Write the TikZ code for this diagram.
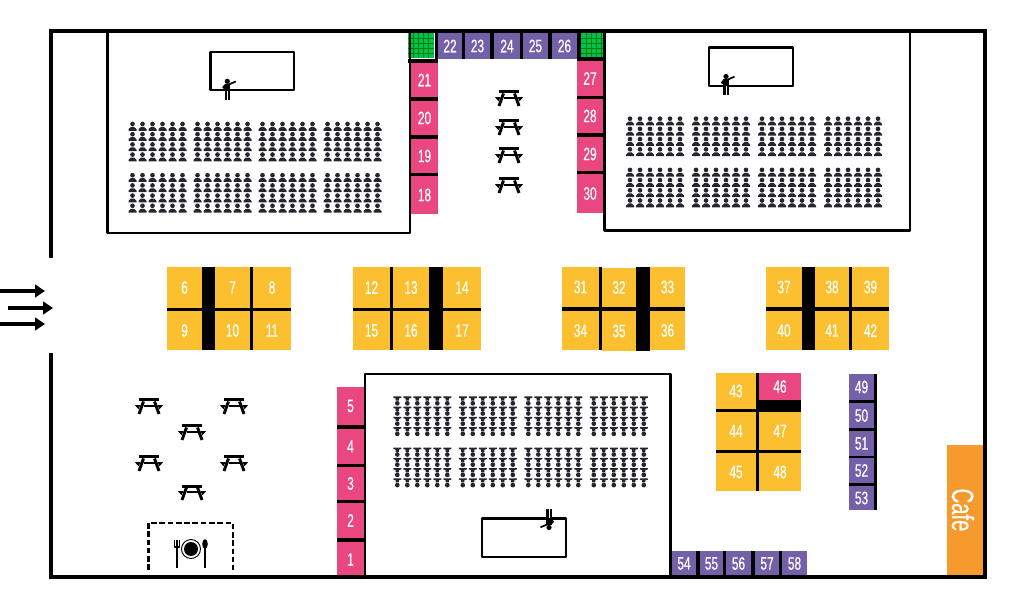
\documentclass[tikz,border=0pt]{standalone}
\usepackage{fontspec}
\usetikzlibrary{arrows.meta}
\newfontfamily\stallfont[FakeStretch=0.66,FakeBold=0.4]{Liberation Sans}
\definecolor{stallyellow}{HTML}{FBBF2F}
\definecolor{stallpink}{HTML}{EA4680}
\definecolor{stallpurple}{HTML}{7460A8}
\definecolor{cafeorange}{HTML}{F79A2E}
\definecolor{greenroom}{HTML}{00C050}
\definecolor{seatgray}{HTML}{26252E}
\tikzset{
 wall/.style={line width=3pt,line join=miter},
 room/.style={line width=2.1pt},
 stalltext/.style={text=white,font=\stallfont\fontsize{13.5}{13.5}\selectfont,inner sep=0pt},
 picnic/.pic={
  \fill (-10,-7.5) rectangle (10,-4.5);
  \draw[line width=2.2pt] (-5.5,-4.5)--(-10,8) (5.5,-4.5)--(10,8);
  \fill (-5.5,-1.2) rectangle (5.5,1.2);
  \fill (-14,-0.8)--(-8.4,-0.8)--(-10.6,3.2)--cycle (14,-0.8)--(8.4,-0.8)--(10.6,3.2)--cycle;
 },
 attendee/.pic={
  \fill (0,0) circle (2.35);
  \fill (-4,6.8)--(-4,5.2)--(-1.7,3)--(1.7,3)--(4,5.2)--(4,6.8)--cycle;
 },
 backseat/.pic={
  \fill (0,0) circle (2.35);
  \fill (-4,-6.8)--(4,-6.8)--(4,-5.5)--(1.6,-4.8)--(1.6,-2.6)--(-1.6,-2.6)--(-1.6,-4.8)--(-4,-5.5)--cycle;
 },
 speaker/.pic={
  \fill (0,0) circle (2.6);
  \fill (-2.6,3)--(2.6,3)--(2.6,19)--(-2.6,19)--cycle;
  \draw[white,line width=0.35pt] (0,10)--(0,19);
  \draw[line width=1.3pt] (1,3.4)--(8.5,0.2);
  \draw[line width=1.4pt] (-1.5,3.4)--(-4,6)--(-1,8);
 }
}
% seats of one room: first x, first y, gap of the blocks, kind of seat
\newcommand{\seatblocks}[4]{
 \foreach \block in {0,1,2,3}
 \foreach \tier in {0,1}
 \foreach \col in {0,...,5}
 \foreach \row in {0,1,2,3}
 \pic[seatgray] at ({#1+\block*#3+\col*10},{#2+\tier*51.2+\row*10.2}) {#4};
}
\begin{document}
\begin{tikzpicture}[x=0.75pt,y=-0.75pt,>=Triangle, line join=round]
 \useasboundingbox (0,0) rectangle (1024,605);
 % yellow, pink and purple stalls
 \foreach \n/\xa/\ya/\xb/\yb in {6/167/267/202/308,7/215/267/250/308,8/253/267/291/308,
 9/167/311/202/350,10/215/311/250/350,11/253/311/291/350,
 12/353/267/390/308,13/393/267/429/308,14/443/267/481/308,
 15/353/311/390/350,16/393/311/429/350,17/443/311/481/350,
 31/562/267/599/307,32/602/268/636/307,33/650/267/685/307,
 34/562/311/599/350,35/602/311/636/351,36/650/311/685/350,
 37/766/267/802/307,38/815/267/849/307,39/852/267/889/307,
 40/766/311/802/350,41/815/311/849/350,42/852/311/889/350,
 43/716/373/756/409,44/716/412/756/450,45/716/453/756/491,
 47/759/412/801/450,48/759/453/801/491}
 \path[fill=stallyellow] (\xa,\ya) rectangle node[stalltext] (s\n) {\n} (\xb,\yb);
 \foreach \n/\xa/\ya/\xb/\yb in {1/337/542/364/577,2/337/503/364/538,3/337/467/364/500,
 4/337/429/364/464,5/337/387/364/425,18/411/176/438/214,19/411/139/438/173,
 20/411/101/438/135,21/411/63/438/97,27/577/61/603/96,28/577/99/603/133,
 29/577/137/603/171,30/577/174/603/213,46/759/373/801/400}
 \path[fill=stallpink] (\xa,\ya) rectangle node[stalltext] (s\n) {\n} (\xb,\yb);
 \foreach \n/\xa/\ya/\xb/\yb in {22/438/33/462/59,23/465/33/490/59,24/494/33/520/59,
 25/523/33/548/59,26/552/33/577/59,49/849/374/874/400,50/849/403/874/428,
 51/849/431/874/456,52/849/458/874/483,53/849/486/874/510,54/672/551/696/576,
 55/700/551/723/576,56/726/551/751/576,57/755/551/779/576,58/782/551/807/576}
 \path[fill=stallpurple] (\xa,\ya) rectangle node[stalltext] (s\n) {\n} (\xb,\yb);
 % black bars between stalls
 \foreach \xa/\ya/\xb/\yb in {202/267/215/350,250/267/253/350,167/308/291/311,
 390/267/393/350,429/267/443/350,353/308/481/311,
 599/267/602/350,636/267/650/351,562/307/685/311,
 802/267/815/350,849/267/852/350,766/307/889/311,
 756/373/759/491,716/409/801/412,759/400/801/412,716/450/801/453,
 337/425/364/429,337/464/364/467,337/500/364/503,337/538/364/542,
 411/97/438/101,411/135/438/139,411/173/438/176,408/59/438/63,
 577/96/603/99,577/133/603/137,577/171/603/174,577/57/603/61,
 435/33/438/59,462/33/465/59,490/33/494/59,520/33/523/59,548/33/552/59,577/33/581/59,
 874/374/877/510,849/400/874/403,849/428/874/431,849/456/874/458,849/483/874/486,
 696/551/700/576,723/551/726/576,751/551/755/576,779/551/782/576}
 \fill (\xa,\ya) rectangle (\xb,\yb);
 % green corners
 \foreach \xa/\xb/\yb in {408/434/58,581/603/57}{
 \fill[greenroom] (\xa,33) rectangle (\xb,\yb);
 \foreach \k in {1,...,4}
 \draw[green!50!black,line width=0.2pt] (\xa+\k*5,33)--(\xa+\k*5,\yb) (\xa,33+\k*5)--(\xb,33+\k*5);
 }
 % cafe
 \path[fill=cafeorange] (947,445) rectangle (983,577);
 \node[stalltext,font=\stallfont\fontsize{23}{23}\selectfont,rotate=-90] (cafe) at (963,510) {Cafe};
 % walls and rooms
 \draw[wall] (50.7,258)--(50.7,30.7)--(985,30.7)--(985,577)--(50.7,577)--(50.7,353);
 \draw[room] (107.5,31)--(107.5,233)--(410,233)--(410,33);
 \draw[room] (604.7,31)--(604.7,230.7)--(910,230.7)--(910,31);
 \draw[room] (365,577)--(365,374)--(670.5,374)--(670.5,577);
 % whiteboards and speakers
 \draw[room] (210.5,52) rectangle (294,90);
 \draw[room] (709,47.5) rectangle (793,86);
 \draw[room] (482,518.5) rectangle (566,557);
 \pic at (227.3,81.3) {speaker};
 \pic at (726,76.5) {speaker};
 \pic[rotate=180] at (549,527.5) {speaker};
 % audience
 \seatblocks{132.5}{124}{65}{attendee}
 \seatblocks{630}{118.7}{66}{attendee}
 \seatblocks{397.3}{403.3}{65.5}{backseat}
 % picnic tables
 \foreach \px/\py in {509/98,509/127,509/155,509/185,149/406,234/406,192/432,149/463,234/463,192/492}
 \pic at (\px,\py) {picnic};
 % dining area
 \draw[line width=1.7pt,dash pattern=on 4.2pt off 2pt] (148.5,570)--(148.5,523)--(233,523)--(233,570);
 \draw[line width=0.7pt] (191,549) circle (9.5);
 \fill (191,549) circle (7);
 \draw[line width=0.9pt] (177,568)--(177,540) (174.7,540)--(174.7,547)--(179.3,547)--(179.3,540);
 \fill (205,544) ellipse (2.8 and 4.8);
 \draw[line width=0.9pt] (205,546)--(205,568);
 % entrance
 \foreach \ax/\bx/\ay in {0/45/291,8/53/308,0/45/324}
 \draw[->,line width=3.1pt,>={Triangle[length=7.5pt,width=9.5pt]}] (\ax,\ay)--(\bx,\ay);
\end{tikzpicture}
\end{document}
